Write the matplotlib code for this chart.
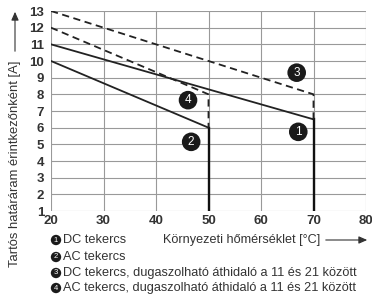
import matplotlib
matplotlib.use("Agg")
import matplotlib.pyplot as plt
from matplotlib.patches import FancyArrowPatch

plt.rcParams["font.family"] = ["Liberation Sans", "DejaVu Sans"]

# curve data (temperature in C, current in A)
dc_x = [20, 70, 70]
dc_y = [11, 6.5, 1]
ac_x = [20, 50, 50]
ac_y = [10, 6, 1]
dc_br_x = [20, 70, 70]
dc_br_y = [13, 8, 6.5]
ac_br_x = [20, 50, 50]
ac_br_y = [12, 8, 6]

x_ticks = [20, 30, 40, 50, 60, 70, 80]
y_ticks = list(range(1, 14))

badges = [("1", 67.1, 5.75), ("2", 46.7, 5.15), ("3", 66.8, 9.3), ("4", 46.1, 7.65)]
legend_labels = [
    "DC tekercs",
    "AC tekercs",
    "DC tekercs, dugaszolható áthidaló a 11 és 21 között",
    "AC tekercs, dugaszolható áthidaló a 11 és 21 között",
]

fig = plt.figure(figsize=(3.72, 2.97), dpi=100)
ax = fig.add_axes([51 / 372, 1 - 211 / 297, 315 / 372, 200 / 297])

ax.plot(dc_x[:2], dc_y[:2], color="#222222", lw=1.3)
ax.plot(dc_x[1:], dc_y[1:], color="#111111", lw=1.7)
ax.plot(ac_x[:2], ac_y[:2], color="#222222", lw=1.3)
ax.plot(ac_x[1:], ac_y[1:], color="#111111", lw=1.7)
ax.plot(dc_br_x, dc_br_y, color="#222222", lw=1.3, ls=(0, (4, 2.5)))
ax.plot(ac_br_x, ac_br_y, color="#222222", lw=1.3, ls=(0, (4, 2.5)))

for lab, bx, by in badges:
    ax.text(bx, by, lab, ha="center", va="center", color="white", fontsize=8.5,
            bbox=dict(boxstyle="circle,pad=0.28", fc="#1a1a1a", ec="none"))

ax.set_xlim(20, 80)
ax.set_ylim(1, 13)
ax.set_xticks(x_ticks)
ax.set_yticks(y_ticks)
ax.grid(True, color="#999999", lw=0.8)
ax.tick_params(length=0, labelsize=9.5, pad=5)
ax.tick_params(axis="x", pad=3)
for t in ax.get_xticklabels() + ax.get_yticklabels():
    t.set_fontweight("bold")
    t.set_color("#333333")
for s in ax.spines.values():
    s.set_visible(False)

# axis labels with arrows
fig.text(163 / 372, 1 - 240 / 297, "Környezeti hőmérséklet [°C]", fontsize=9.1,
         ha="left", va="center", color="#333333")
fig.add_artist(FancyArrowPatch(
    (323 / 372, 1 - 240 / 297), (370 / 372, 1 - 240 / 297),
    transform=fig.transFigure, arrowstyle="-|>,head_length=5,head_width=2.2",
    color="#333333", lw=0.8))
fig.text(15 / 372, 1 - 164 / 297, "Tartós határáram érintkezőnként [A]", fontsize=9.4,
         rotation=90, ha="center", va="center", color="#333333")
fig.add_artist(FancyArrowPatch(
    (15 / 372, 1 - 54 / 297), (15 / 372, 1 - 9 / 297),
    transform=fig.transFigure, arrowstyle="-|>,head_length=5,head_width=2.2",
    color="#333333", lw=0.8))

# legend
leg_y = [240, 257, 273, 288]
for i, (txt, yy) in enumerate(zip(legend_labels, leg_y)):
    fig.text(56 / 372, 1 - yy / 297, str(i + 1), ha="center", va="center", color="white",
             fontsize=5.5, bbox=dict(boxstyle="circle,pad=0.22", fc="#1a1a1a", ec="none"))
    fig.text(63 / 372, 1 - yy / 297, txt, ha="left", va="center", fontsize=9.2,
             color="#333333")

fig.savefig("out.png", dpi=100)
